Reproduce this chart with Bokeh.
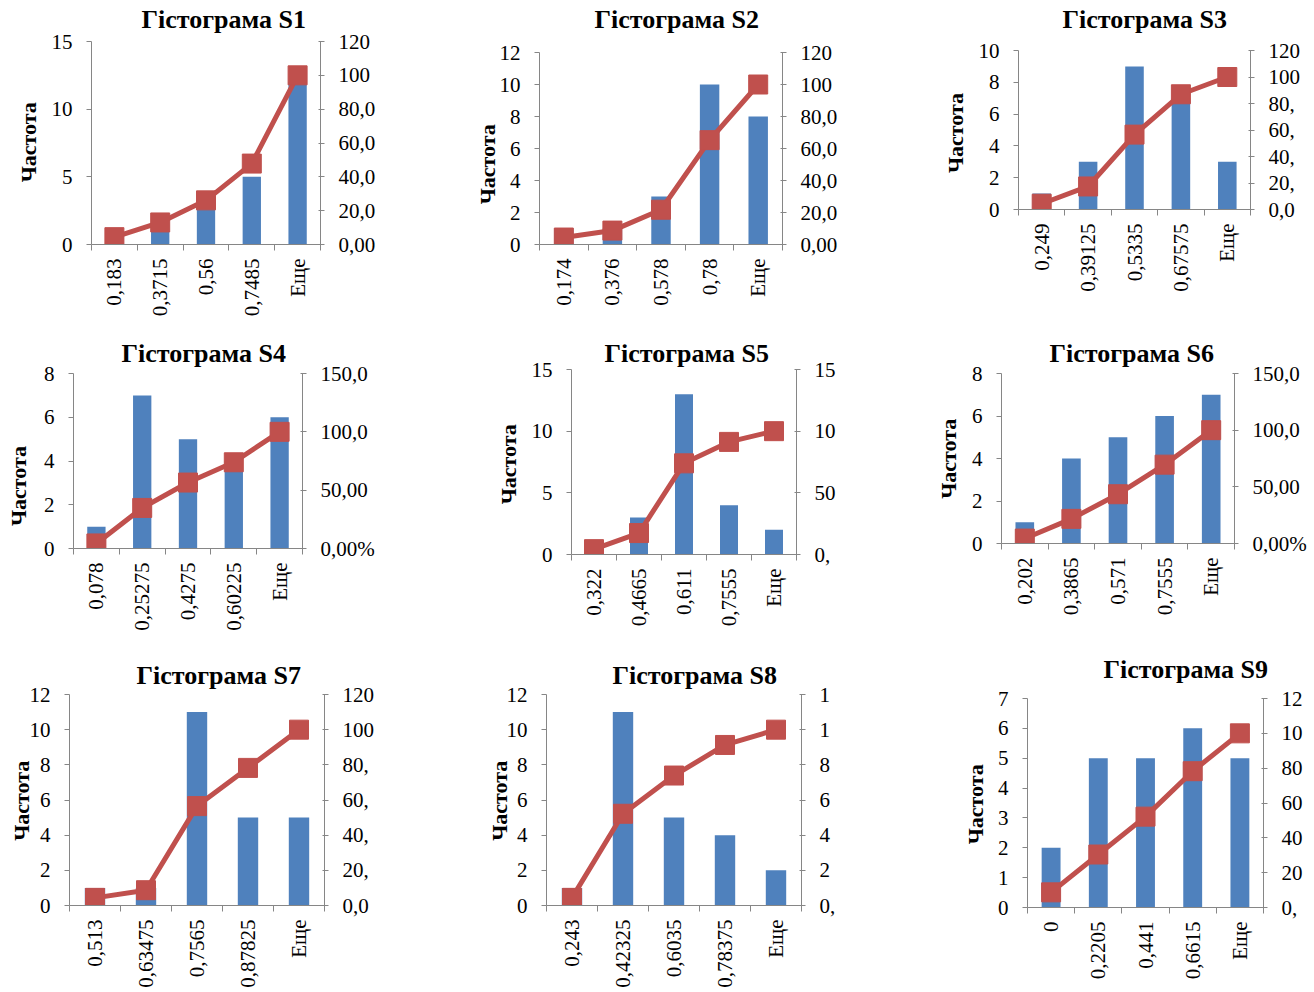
import math
from bokeh.plotting import figure
from bokeh.models import Range1d, LinearAxis, FixedTicker, CustomJSTickFormatter
from bokeh.layouts import row, column
from bokeh.embed import file_html
from bokeh.resources import INLINE

# ---------------- data ----------------
titles = ["Гістограма S1", "Гістограма S2", "Гістограма S3",
          "Гістограма S4", "Гістограма S5", "Гістограма S6",
          "Гістограма S7", "Гістограма S8", "Гістограма S9"]
y_axis_title = "Частота"

bins_s1 = ["0,183", "0,3715", "0,56", "0,7485", "Еще"]
freq_s1 = [1, 2, 3, 5, 12]
cum_s1 = [4.35, 13.04, 26.09, 47.83, 100.0]

bins_s2 = ["0,174", "0,376", "0,578", "0,78", "Еще"]
freq_s2 = [1, 1, 3, 10, 8]
cum_s2 = [4.35, 8.70, 21.74, 65.22, 100.0]

bins_s3 = ["0,249", "0,39125", "0,5335", "0,67575", "Еще"]
freq_s3 = [1, 3, 9, 7, 3]
cum_s3 = [4.35, 17.39, 56.52, 86.96, 100.0]

bins_s4 = ["0,078", "0,25275", "0,4275", "0,60225", "Еще"]
freq_s4 = [1, 7, 5, 4, 6]
cum_s4 = [4.35, 34.78, 56.52, 73.91, 100.0]

bins_s5 = ["0,322", "0,4665", "0,611", "0,7555", "Еще"]
freq_s5 = [1, 3, 13, 4, 2]
cum_s5 = [4.35, 17.39, 73.91, 91.30, 100.0]

bins_s6 = ["0,202", "0,3865", "0,571", "0,7555", "Еще"]
freq_s6 = [1, 4, 5, 6, 7]
cum_s6 = [4.35, 21.74, 43.48, 69.57, 100.0]

bins_s7 = ["0,513", "0,63475", "0,7565", "0,87825", "Еще"]
freq_s7 = [1, 1, 11, 5, 5]
cum_s7 = [4.35, 8.70, 56.52, 78.26, 100.0]

bins_s8 = ["0,243", "0,42325", "0,6035", "0,78375", "Еще"]
freq_s8 = [1, 11, 5, 4, 2]
cum_s8 = [4.35, 52.17, 73.91, 91.30, 100.0]

bins_s9 = ["0", "0,2205", "0,441", "0,6615", "Еще"]
freq_s9 = [2, 5, 5, 6, 5]
cum_s9 = [8.70, 30.43, 52.17, 78.26, 100.0]

# left (frequency) axes: max, step
left_max = [15, 12, 10, 8, 15, 8, 12, 12, 7]
left_step = [5, 2, 2, 2, 5, 2, 2, 2, 1]

# right (cumulative %) axes: ticks and the part of each label that is visible
pct_ticks_120 = [0, 20, 40, 60, 80, 100, 120]
pct_ticks_150 = [0, 50, 100, 150]
pct_max = [120, 120, 120, 150, 150, 150, 120, 120, 120]
right_labels_s1 = ["0,00", "20,0", "40,0", "60,0", "80,0", "100", "120"]
right_labels_s2 = ["0,00", "20,0", "40,0", "60,0", "80,0", "100", "120"]
right_labels_s3 = ["0,0", "20,", "40,", "60,", "80,", "100", "120"]
right_labels_s4 = ["0,00%", "50,00", "100,0", "150,0"]
right_labels_s5 = ["0,", "50", "10", "15"]
right_labels_s6 = ["0,00%", "50,00", "100,0", "150,0"]
right_labels_s7 = ["0,0", "20,", "40,", "60,", "80,", "100", "120"]
right_labels_s8 = ["0,", "2", "4", "6", "8", "1", "1"]
right_labels_s9 = ["0,", "20", "40", "60", "80", "10", "12"]

# ---------------- layout (page pixel geometry) ----------------
col_edges = [0, 385, 850, 1314]
row_edges = [0, 330, 650, 992]
# axis left x, axis right x, axis top y, axis bottom y, title offset, title centre y,
# y-title standoff, y-title shift (in no-break spaces, moves it down)
geom = [
    (91, 320, 41, 244, 50, 20.5, 8, 1),
    (539, 782, 52, 244, 55, 18.3, -3, 9),
    (1018, 1250, 50, 209, 44, 18.0, 8, 4),
    (73, 302, 373, 548, 48, 355.0, 10, 10),
    (571, 796, 369, 554, 33, 354.3, 8, 1),
    (1001, 1234, 373, 543, 48, 354.7, 8, 1),
    (69, 324, 694, 905, 67, 676.7, -7, 1),
    (546, 801, 694, 905, 66, 676.8, -8, 1),
    (1027, 1263, 698, 907, 76, 667.7, 7, 3),
]
TITLE_STANDOFF = 2
TITLE_GAP = 13.5    # title centre to frame top for that standoff
TITLE_PANEL = 34    # room the title needs above the frame

FONT = "Liberation Serif"
BLUE = "#4F81BD"
RED = "#C0504D"
AXIS = "#868686"


def make_chart(k, bins, freq, cum, rlabels):
    fl, fr, ft, fb, toff, tcy, lstand, lshift = geom[k]
    ci, ri = k % 3, k // 3
    cl, cr = col_edges[ci], col_edges[ci + 1]
    rt, rb = row_edges[ri], row_edges[ri + 1]
    n = len(bins)
    ymax = left_max[k]
    pmax = pct_max[k]
    pticks = pct_ticks_120 if pmax == 120 else pct_ticks_150

    # frame reaches up to just below the title; the axes stop at their maxima
    frame_top = min(ft, max(int(round(tcy + TITLE_GAP)), rt + TITLE_PANEL))
    ext = (fb - frame_top) / (fb - ft)

    p = figure(width=cr - cl, height=rb - rt,
               x_range=Range1d(-0.5, n - 0.5), y_range=Range1d(0, ymax * ext),
               output_backend="svg", toolbar_location=None, tools="",
               min_border_left=fl - cl, min_border_right=cr - fr,
               min_border_top=frame_top - rt, min_border_bottom=rb - fb)
    p.extra_y_ranges = {"pct": Range1d(0, pmax * ext)}
    p.outline_line_color = None
    p.xgrid.visible = False
    p.ygrid.visible = False
    p.background_fill_color = "white"
    p.border_fill_color = "white"

    p.title.text = titles[k]
    p.title.align = "left"
    p.title.offset = toff
    p.title.standoff = TITLE_STANDOFF
    p.title.text_font = FONT
    p.title.text_font_size = "26px"
    p.title.text_font_style = "bold"
    p.title.text_color = "black"

    xs = list(range(n))
    p.vbar(x=xs, top=freq, width=0.4, fill_color=BLUE, line_color=None)
    p.line(xs, cum, y_range_name="pct", line_color=RED, line_width=5)
    p.scatter(xs, cum, y_range_name="pct", marker="square", size=19,
              fill_color=RED, line_color=RED)

    # bottom axis: labels at bin centres, ticks at bin boundaries
    xa = p.xaxis[0]
    xa.ticker = FixedTicker(ticks=xs, minor_ticks=[i - 0.5 for i in range(n + 1)])
    xa.formatter = CustomJSTickFormatter(args=dict(binlabels=bins), code="""
        const i = Math.round(tick);
        return (i >= 0 && i < binlabels.length) ? binlabels[i] : '';
    """)
    xa.major_label_orientation = math.pi / 2
    xa.major_tick_out = 0
    xa.major_tick_in = 0
    xa.minor_tick_out = 6
    xa.minor_tick_in = 0
    xa.minor_tick_line_color = AXIS
    xa.axis_line_color = AXIS
    xa.major_label_standoff = 8
    xa.major_label_text_font = FONT
    xa.major_label_text_font_size = "21px"
    xa.major_label_text_color = "black"

    # left axis
    ya = p.yaxis[0]
    ya.ticker = FixedTicker(ticks=list(range(0, ymax + 1, left_step[k])))
    ya.bounds = (0, ymax)
    ya.major_tick_out = 5
    ya.major_tick_in = 0
    ya.minor_tick_out = 0
    ya.minor_tick_in = 0
    ya.axis_line_color = AXIS
    ya.major_tick_line_color = AXIS
    ya.major_label_standoff = 14
    ya.major_label_text_font = FONT
    ya.major_label_text_font_size = "21px"
    ya.major_label_text_color = "black"
    ya.axis_label = y_axis_title + "\u00a0" * lshift
    ya.axis_label_standoff = lstand
    ya.axis_label_text_font = FONT
    ya.axis_label_text_font_size = "22px"
    ya.axis_label_text_font_style = "bold"
    ya.axis_label_text_color = "black"

    # right axis (cumulative %)
    ra = LinearAxis(y_range_name="pct", ticker=FixedTicker(ticks=pticks), bounds=(0, pmax),
                    formatter=CustomJSTickFormatter(args=dict(pt=pticks, plab=rlabels), code="""
        const i = pt.indexOf(Math.round(tick));
        return i >= 0 ? plab[i] : '';
    """))
    ra.major_tick_out = 4
    ra.major_tick_in = 2
    ra.minor_tick_out = 0
    ra.minor_tick_in = 0
    ra.axis_line_color = AXIS
    ra.major_tick_line_color = AXIS
    ra.major_label_standoff = 14
    ra.major_label_text_font = FONT
    ra.major_label_text_font_size = "21px"
    ra.major_label_text_color = "black"
    p.add_layout(ra, "right")
    return p


series = [(bins_s1, freq_s1, cum_s1, right_labels_s1),
          (bins_s2, freq_s2, cum_s2, right_labels_s2),
          (bins_s3, freq_s3, cum_s3, right_labels_s3),
          (bins_s4, freq_s4, cum_s4, right_labels_s4),
          (bins_s5, freq_s5, cum_s5, right_labels_s5),
          (bins_s6, freq_s6, cum_s6, right_labels_s6),
          (bins_s7, freq_s7, cum_s7, right_labels_s7),
          (bins_s8, freq_s8, cum_s8, right_labels_s8),
          (bins_s9, freq_s9, cum_s9, right_labels_s9)]

figs = [column(make_chart(k, *s)) for k, s in enumerate(series)]
layout = column(row(figs[0:3], spacing=0), row(figs[3:6], spacing=0),
                row(figs[6:9], spacing=0), spacing=0)

open("out.html", "w").write(file_html(layout, INLINE))
